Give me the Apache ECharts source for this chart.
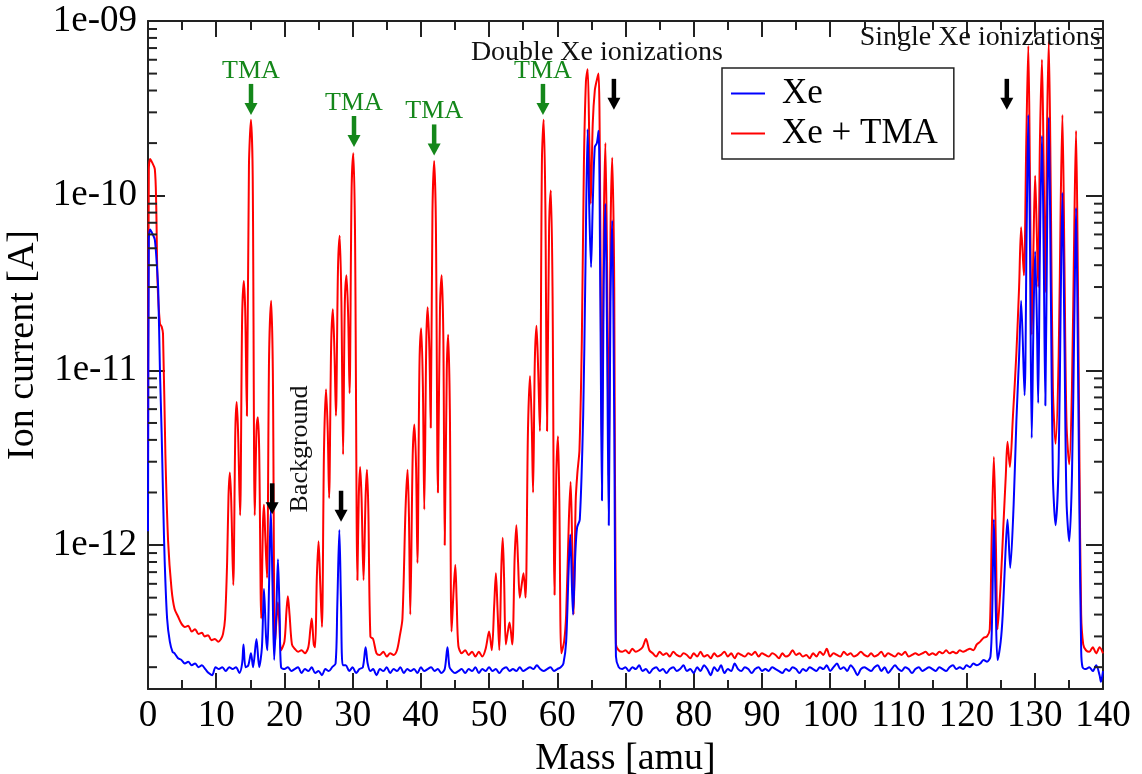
<!DOCTYPE html>
<html><head><meta charset="utf-8">
<script src="https://cdn.jsdelivr.net/npm/echarts@6/dist/echarts.min.js"></script>
<style>html,body{margin:0;padding:0;background:#fff}#c{width:1142px;height:774px}</style>
</head><body><div id="c"></div>
<script>
// ---------------- DATA (mass [amu], ion current [A]) ----------------
const xMin = 0, xMax = 140, xStep = 10;
const yMin = 1.5e-13, yMax = 1e-9;
const yTickLabels = [[1e-12, '1e-12'], [1e-11, '1e-11'], [1e-10, '1e-10'], [1e-9, '1e-09']];
const seriesNames = ['Xe', 'Xe + TMA'];

// Xe + TMA (red)
const tmaLow = [[0,3.0e-12],[0.12,1.4e-10],[0.3,1.62e-10],[0.6,1.55e-10],[1.0,1.42e-10],[1.2,9.0e-11],[1.4,3.2e-11],[1.75,1.85e-11],[2.0,1.78e-11],[2.2,1.62e-11],[2.55,3.3e-12],[2.95,1.05e-12],[3.45,5.6e-13],[3.9,4.3e-13],[4.4,3.9e-13],[4.9,3.55e-13],[5.4,3.4e-13],[5.9,3.45e-13],[6.4,3.2e-13],[6.9,3.3e-13],[7.4,3.1e-13],[7.9,3.15e-13],[8.3,3.0e-13],[8.8,3.05e-13],[9.3,2.85e-13],[9.8,2.9e-13],[10.3,2.8e-13],[10.7,2.9e-13],[11.0,3.1e-13],[11.3,3.8e-13],[11.6,8.0e-13],[11.8,1.9e-12],[12.0,2.6e-12],[12.2,1.8e-12],[12.5,5.9e-13],[12.8,4.5e-12],[13.0,6.6e-12],[13.2,4.5e-12],[13.5,1.48e-12],[13.8,2.0e-11],[14.05,3.25e-11],[14.25,2.2e-11],[14.5,5.5e-12],[14.8,1.5e-10],[15.1,2.72e-10],[15.35,1.3e-10],[15.65,1.48e-12],[15.9,4.5e-12],[16.1,5.4e-12],[16.3,3.5e-12],[16.6,3.8e-13],[16.85,1.3e-12],[17.0,1.7e-12],[17.2,1.1e-12],[17.45,6.5e-13],[17.75,1.2e-11],[18.05,2.5e-11],[18.3,1.0e-11],[18.6,2.7e-13],[18.85,3.8e-13],[19.05,4.7e-13],[19.25,3.6e-13],[19.5,2.5e-13],[20.0,2.8e-13],[20.3,4.2e-13],[20.5,5.1e-13],[20.75,4.0e-13],[21.1,2.7e-13],[21.5,2.55e-13],[22.0,2.45e-13],[22.5,2.5e-13],[23.0,2.4e-13],[23.5,2.6e-13]];
const tmaMid = [[23.8,3.3e-13],[24.0,3.8e-13],[24.3,2.7e-13],[24.5,2.6e-13],[24.75,6.5e-13],[25.0,1.05e-12],[25.25,6.0e-13],[25.5,3.4e-13],[25.8,3.5e-12],[26.1,7.8e-12],[26.35,4.5e-12],[26.55,1.86e-12],[26.85,1.4e-11],[27.1,2.24e-11],[27.35,1.2e-11],[27.55,5.5e-12],[27.85,3.8e-11],[28.1,5.9e-11],[28.35,2.5e-11],[28.6,3.3e-12],[28.85,2.4e-11],[29.1,3.5e-11],[29.35,2.0e-11],[29.55,7.4e-12],[29.85,1.1e-10],[30.1,1.75e-10],[30.35,6.0e-11],[30.7,6.3e-13],[30.9,1.9e-12],[31.1,2.8e-12],[31.3,1.9e-12],[31.6,6.3e-13],[31.9,1.9e-12],[32.1,2.7e-12],[32.3,1.6e-12],[32.6,3.0e-13],[33.0,2.9e-13],[33.5,2.4e-13],[34.0,2.35e-13],[34.5,2.45e-13],[35.0,2.3e-13],[35.5,2.4e-13],[36.0,2.35e-13],[36.5,2.5e-13],[36.9,3.0e-13],[37.3,3.8e-13],[37.75,1.6e-12],[38.05,2.7e-12],[38.25,1.5e-12],[38.45,4.0e-13],[38.8,3.2e-12],[39.05,4.9e-12],[39.3,2.8e-12],[39.5,7.9e-13],[39.8,1.1e-11],[40.05,1.74e-11],[40.3,8.0e-12],[40.5,1.6e-12],[40.8,1.5e-11],[41.0,2.3e-11],[41.25,1.3e-11],[41.45,4.7e-12],[41.7,8.0e-11],[41.95,1.58e-10],[42.2,7.0e-11],[42.5,2.0e-12],[42.8,2.2e-11],[43.05,3.5e-11],[43.3,1.5e-11],[43.5,1.0e-12],[43.8,1.0e-11],[44.0,1.6e-11],[44.25,6.0e-12],[44.5,3.2e-13],[44.8,5.5e-13],[45.05,7.7e-13],[45.25,4.8e-13],[45.5,2.65e-13],[46.0,2.4e-13],[46.5,2.5e-13],[47.0,2.35e-13],[47.5,2.45e-13],[48.0,2.3e-13],[48.5,2.45e-13],[49.0,2.3e-13],[49.5,2.55e-13],[50.0,3.2e-13],[50.4,2.5e-13],[50.75,4.5e-13],[51.0,6.9e-13],[51.25,4.2e-13],[51.5,2.5e-13],[51.8,7.5e-13],[52.0,1.1e-12],[52.2,6.5e-13],[52.45,2.7e-13],[52.75,3.2e-13],[53.0,3.6e-13],[53.4,2.7e-13],[53.75,8.5e-13],[54.0,1.3e-12],[54.25,8.0e-13],[54.5,5.0e-13],[54.8,6.0e-13],[55.05,6.9e-13],[55.35,5.0e-13],[55.7,4.5e-12],[56.0,9.3e-12],[56.25,5.0e-12],[56.45,2.0e-12],[56.7,1.1e-11],[56.95,1.8e-11],[57.2,1.0e-11],[57.45,4.5e-12],[57.75,1.6e-10],[58.0,2.72e-10],[58.25,9.0e-11],[58.5,4.5e-12],[58.8,6.5e-11],[59.05,1.07e-10],[59.3,3.0e-11],[59.6,5.2e-13],[59.85,2.5e-12],[60.1,4.2e-12],[60.3,1.8e-12],[60.6,2.4e-13],[61.0,2.8e-13],[61.3,4.0e-13],[61.7,1.4e-12],[61.95,2.3e-12],[62.15,1.2e-12],[62.4,4.0e-13],[62.7,1.8e-12],[62.95,2.6e-12],[63.25,3.5e-12],[63.6,1.5e-11],[63.9,1.5e-10],[64.2,4.5e-10],[64.45,5.3e-10],[64.7,2.0e-10],[64.9,9.0e-11],[65.2,2.6e-10],[65.5,4.0e-10],[65.8,4.6e-10],[66.05,5.0e-10],[66.3,8.0e-11],[66.55,3.0e-12],[66.8,6.0e-11],[67.05,2.0e-10],[67.3,4.0e-11],[67.55,2.5e-12],[67.8,6.0e-11],[68.05,1.65e-10],[68.35,3.0e-11],[68.6,2.7e-13]];
const tmaFlat = [[69.0,2.5e-13],[69.5,2.45e-13],[70.0,2.5e-13],[70.5,2.4e-13],[71.0,2.55e-13],[71.5,2.45e-13],[72.0,2.5e-13],[72.5,2.6e-13],[73.0,2.9e-13],[73.5,2.5e-13],[74.0,2.4e-13],[74.5,2.3e-13],[75.0,2.45e-13],[75.5,2.35e-13],[76.0,2.4e-13],[76.5,2.3e-13],[77.0,2.45e-13],[77.5,2.35e-13],[78.0,2.3e-13],[78.5,2.4e-13],[79.0,2.35e-13],[79.5,2.25e-13],[80.0,2.4e-13],[80.5,2.3e-13],[81.0,2.45e-13],[81.5,2.3e-13],[82.0,2.35e-13],[82.5,2.25e-13],[83.0,2.4e-13],[83.5,2.3e-13],[84.0,2.35e-13],[84.5,2.45e-13],[85.0,2.3e-13],[85.5,2.4e-13],[86.0,2.25e-13],[86.5,2.4e-13],[87.0,2.35e-13],[87.5,2.3e-13],[88.0,2.4e-13],[88.5,2.35e-13],[89.0,2.45e-13],[89.5,2.3e-13],[90.0,2.4e-13],[90.5,2.35e-13],[91.0,2.3e-13],[91.5,2.4e-13],[92.0,2.35e-13],[92.5,2.25e-13],[93.0,2.4e-13],[93.5,2.3e-13],[94.0,2.35e-13],[94.5,2.5e-13],[95.0,2.35e-13],[95.5,2.4e-13],[96.0,2.3e-13],[96.5,2.35e-13],[97.0,2.25e-13],[97.5,2.4e-13],[98.0,2.3e-13],[98.5,2.45e-13],[99.0,2.35e-13],[99.5,2.55e-13],[100.0,2.3e-13],[100.5,2.4e-13],[101.0,2.35e-13],[101.5,2.3e-13],[102.0,2.45e-13],[102.5,2.35e-13],[103.0,2.4e-13],[103.5,2.3e-13],[104.0,2.35e-13],[104.5,2.45e-13],[105.0,2.35e-13],[105.5,2.3e-13],[106.0,2.4e-13],[106.5,2.3e-13],[107.0,2.35e-13],[107.5,2.45e-13],[108.0,2.3e-13],[108.5,2.4e-13],[109.0,2.35e-13],[109.5,2.3e-13],[110.0,2.4e-13],[110.5,2.35e-13],[111.0,2.45e-13],[111.5,2.3e-13],[112.0,2.35e-13],[112.5,2.4e-13],[113.0,2.35e-13],[113.5,2.4e-13],[114.0,2.45e-13],[114.5,2.35e-13],[115.0,2.4e-13],[115.5,2.35e-13],[116.0,2.45e-13],[116.5,2.4e-13],[117.0,2.5e-13],[117.5,2.4e-13],[118.0,2.45e-13],[118.5,2.4e-13],[119.0,2.5e-13],[119.5,2.45e-13],[120.0,2.5e-13],[120.5,2.55e-13],[121.0,2.5e-13],[121.5,2.7e-13],[122.0,2.8e-13],[122.5,2.95e-13],[123.0,3.0e-13],[123.4,3.3e-13]];
const tmaHigh = [[123.7,1.2e-12],[124.0,3.2e-12],[124.3,1.0e-12],[124.55,3.3e-13],[125.0,6.0e-13],[125.4,1.3e-12],[125.75,2.5e-12],[126.0,3.9e-12],[126.35,2.8e-12],[126.8,5.5e-12],[127.3,1.25e-11],[127.7,3.0e-11],[128.0,6.6e-11],[128.4,3.5e-11],[128.75,2.0e-10],[129.05,7.2e-10],[129.3,1.2e-10],[129.55,1.6e-11],[129.8,5.0e-11],[130.05,1.3e-10],[130.3,6.0e-11],[130.5,3.0e-11],[130.75,2.0e-10],[131.05,6.0e-10],[131.3,1.5e-10],[131.55,2.8e-11],[131.8,2.5e-10],[132.05,7.6e-10],[132.35,1.0e-10],[132.65,8.0e-12],[133.05,3.8e-12],[133.5,1.2e-11],[133.8,9.0e-11],[134.05,2.9e-10],[134.35,4.0e-11],[134.65,5.0e-12],[135.05,2.9e-12],[135.45,8.0e-12],[135.8,7.0e-11],[136.05,2.35e-10],[136.3,4.0e-11],[136.55,3.0e-12],[136.8,4.0e-13],[137.1,2.7e-13],[137.5,2.5e-13],[138.0,2.45e-13],[138.5,2.6e-13],[139.0,2.4e-13],[139.5,2.6e-13],[140.0,2.4e-13]];

// Xe (blue)
const xeLow = [[0,1.2e-12],[0.12,5.5e-11],[0.3,6.4e-11],[0.7,6.0e-11],[1.0,5.6e-11],[1.3,4.0e-11],[1.5,2.9e-11],[1.75,1.0e-11],[2.0,4.4e-12],[2.25,1.6e-12],[2.45,8.0e-13],[2.8,3.8e-13],[3.2,2.8e-13],[3.6,2.45e-13],[3.9,2.4e-13],[4.4,2.25e-13],[4.9,2.2e-13],[5.4,2.1e-13],[5.9,2.15e-13],[6.4,2.05e-13],[6.9,2.1e-13],[7.4,2.0e-13],[7.9,2.05e-13],[8.4,1.95e-13],[8.9,1.85e-13],[9.4,1.8e-13],[9.9,2.0e-13],[10.4,1.95e-13],[10.9,2.0e-13],[11.4,1.9e-13],[11.9,2.0e-13],[12.4,1.95e-13],[12.9,2.0e-13],[13.4,1.85e-13],[13.8,2.1e-13],[14.0,2.7e-13],[14.3,2.0e-13],[14.7,2.05e-13],[15.1,2.4e-13],[15.4,2.0e-13],[15.9,2.9e-13],[16.3,2.0e-13],[16.7,2.6e-13],[17.0,5.6e-13],[17.3,3.0e-13],[17.5,2.5e-13],[17.75,6.0e-13],[18.0,1.6e-12],[18.25,6.0e-13],[18.5,2.2e-13],[18.8,4.0e-13],[19.05,8.3e-13],[19.3,4.0e-13],[19.5,2.0e-13],[20.0,1.95e-13],[20.5,2.0e-13],[21.0,1.9e-13],[21.5,1.95e-13],[22.0,2.0e-13],[22.5,1.85e-13],[23.0,1.95e-13],[23.5,1.9e-13],[24.0,2.0e-13],[24.5,1.85e-13],[25.0,1.9e-13],[25.5,1.8e-13],[26.0,1.95e-13],[26.5,1.9e-13],[27.0,2.0e-13],[27.5,2.1e-13],[27.75,4.5e-13],[28.05,1.22e-12],[28.3,4.5e-13],[28.55,2.05e-13],[29.0,2.05e-13],[29.5,1.9e-13],[30.0,2.0e-13],[30.5,1.85e-13],[31.0,1.95e-13],[31.5,2.0e-13],[31.9,2.6e-13],[32.2,2.1e-13],[32.6,1.9e-13],[33.0,1.95e-13]];
const xeMid = [[33.5,1.8e-13],[34.0,1.95e-13],[34.5,1.9e-13],[35.0,2.0e-13],[35.5,1.85e-13],[36.0,1.95e-13],[36.5,1.9e-13],[37.0,2.0e-13],[37.5,1.85e-13],[38.0,1.95e-13],[38.5,1.9e-13],[39.0,1.95e-13],[39.5,1.85e-13],[40.0,2.0e-13],[40.5,1.9e-13],[41.0,1.95e-13],[41.5,2.0e-13],[42.0,1.9e-13],[42.5,1.95e-13],[43.0,1.85e-13],[43.5,1.95e-13],[43.9,2.6e-13],[44.2,2.0e-13],[44.6,1.9e-13],[45.0,1.85e-13],[45.5,1.9e-13],[46.0,1.95e-13],[46.5,1.85e-13],[47.0,1.95e-13],[47.5,1.9e-13],[48.0,2.0e-13],[48.5,1.85e-13],[49.0,1.95e-13],[49.5,1.9e-13],[50.0,2.0e-13],[50.5,1.9e-13],[51.0,1.95e-13],[51.5,1.85e-13],[52.0,1.95e-13],[52.5,2.0e-13],[53.0,1.9e-13],[53.5,1.95e-13],[54.0,1.9e-13],[54.5,2.0e-13],[55.0,1.9e-13],[55.5,1.95e-13],[56.0,2.0e-13],[56.5,1.95e-13],[57.0,2.05e-13],[57.5,1.95e-13],[58.0,1.9e-13],[58.5,1.95e-13],[59.0,2.0e-13],[59.5,1.9e-13],[60.0,1.95e-13],[60.5,2.0e-13],[60.9,2.1e-13],[61.3,2.8e-13],[61.65,7.0e-13],[61.9,1.15e-12],[62.3,4.0e-13],[62.65,9.0e-13],[62.9,1.26e-12],[63.3,1.4e-12],[63.8,5.6e-12],[64.1,3.2e-11],[64.45,2.4e-10],[64.7,8.0e-11],[64.95,3.9e-11],[65.2,9.0e-11],[65.5,1.9e-10],[65.8,2.0e-10],[66.05,2.35e-10],[66.3,3.0e-11],[66.55,1.8e-12],[66.8,3.0e-11],[67.05,9.0e-11],[67.3,1.5e-11],[67.55,1.3e-12],[67.8,2.5e-11],[68.05,7.2e-11],[68.35,5.0e-12],[68.6,2.3e-13]];
const xeFlat = [[69.0,2.0e-13],[69.5,1.95e-13],[70.0,2.0e-13],[70.5,1.9e-13],[71.0,2.0e-13],[71.5,1.95e-13],[72.0,2.05e-13],[72.5,1.9e-13],[73.0,1.95e-13],[73.5,1.85e-13],[74.0,1.95e-13],[74.5,2.0e-13],[75.0,1.9e-13],[75.5,1.95e-13],[76.0,1.85e-13],[76.5,1.95e-13],[77.0,2.0e-13],[77.5,1.9e-13],[78.0,1.95e-13],[78.5,2.05e-13],[79.0,1.9e-13],[79.5,1.95e-13],[80.0,1.85e-13],[80.5,2.0e-13],[81.0,1.9e-13],[81.5,2.05e-13],[82.0,1.95e-13],[82.5,1.8e-13],[83.0,2.0e-13],[83.5,1.9e-13],[84.0,2.05e-13],[84.5,1.85e-13],[85.0,1.95e-13],[85.5,1.9e-13],[86.0,2.1e-13],[86.5,1.95e-13],[87.0,1.9e-13],[87.5,2.0e-13],[88.0,1.95e-13],[88.5,1.85e-13],[89.0,1.95e-13],[89.5,2.0e-13],[90.0,1.9e-13],[90.5,1.95e-13],[91.0,1.9e-13],[91.5,2.0e-13],[92.0,1.95e-13],[92.5,1.9e-13],[93.0,1.85e-13],[93.5,1.95e-13],[94.0,1.9e-13],[94.5,2.0e-13],[95.0,1.95e-13],[95.5,1.85e-13],[96.0,1.95e-13],[96.5,1.9e-13],[97.0,2.0e-13],[97.5,1.95e-13],[98.0,1.9e-13],[98.5,2.0e-13],[99.0,1.95e-13],[99.5,2.05e-13],[100.0,1.9e-13],[100.5,2.0e-13],[101.0,2.1e-13],[101.5,1.95e-13],[102.0,2.0e-13],[102.5,1.9e-13],[103.0,2.05e-13],[103.5,1.95e-13],[104.0,1.8e-13],[104.5,1.95e-13],[105.0,2.0e-13],[105.5,1.95e-13],[106.0,1.9e-13],[106.5,2.0e-13],[107.0,2.05e-13],[107.5,1.9e-13],[108.0,2.0e-13],[108.5,1.85e-13],[109.0,1.95e-13],[109.5,2.05e-13],[110.0,1.95e-13],[110.5,1.9e-13],[111.0,2.0e-13],[111.5,1.95e-13],[112.0,1.85e-13],[112.5,1.95e-13],[113.0,2.0e-13],[113.5,1.9e-13],[114.0,1.95e-13],[114.5,2.0e-13],[115.0,1.95e-13],[115.5,1.9e-13],[116.0,2.0e-13],[116.5,1.95e-13],[117.0,1.9e-13],[117.5,2.0e-13],[118.0,2.05e-13],[118.5,1.95e-13],[119.0,2.0e-13],[119.5,1.95e-13],[120.0,2.05e-13],[120.5,2.0e-13],[121.0,2.1e-13],[121.5,2.05e-13],[122.0,2.1e-13],[122.5,2.2e-13]];
const xeHigh = [[123.0,2.15e-13],[123.5,2.3e-13],[123.75,4.0e-13],[124.0,1.4e-12],[124.3,4.0e-13],[124.55,2.2e-13],[125.0,2.8e-13],[125.3,4.0e-13],[125.7,9.0e-13],[126.0,1.4e-12],[126.4,7.4e-13],[126.9,1.7e-12],[127.3,5.1e-12],[127.7,1.2e-11],[128.0,2.5e-11],[128.5,7.2e-12],[128.8,6.0e-11],[129.05,2.9e-10],[129.3,5.0e-11],[129.55,4.1e-12],[129.8,1.8e-11],[130.05,4.8e-11],[130.3,2.0e-11],[130.5,6.5e-12],[130.75,5.0e-11],[131.05,2.2e-10],[131.3,5.0e-11],[131.55,6.3e-12],[131.8,6.0e-11],[132.05,2.8e-10],[132.35,3.0e-11],[132.65,2.5e-12],[133.05,1.3e-12],[133.5,3.0e-12],[133.8,2.5e-11],[134.05,1.04e-10],[134.35,1.5e-11],[134.65,1.8e-12],[135.05,1.05e-12],[135.45,2.5e-12],[135.8,2.0e-11],[136.05,8.5e-11],[136.3,1.5e-11],[136.55,1.5e-12],[136.8,2.5e-13],[137.0,2.0e-13],[137.5,1.95e-13],[138.0,2.0e-13],[138.5,1.9e-13],[139.0,2.05e-13],[139.5,1.8e-13],[139.7,1.65e-13],[140.0,1.9e-13]];

// Annotations (mass, current)
const tmaArrowTips = [[15.1, 2.9e-10], [30.2, 1.9e-10], [41.95, 1.7e-10], [57.9, 2.9e-10]];
const blackArrowTips = [[18.2, 1.5e-12], [28.3, 1.36e-12], [68.3, 3.1e-10], [125.9, 3.1e-10]];
const noteTexts = ['Background', 'Double Xe ionizations', 'Single Xe ionizations'];
const notePositions = [[22.3, 3.55e-12], [65.8, 6.6e-10], [122.0, 8.05e-10]];
const noteRotations = [90, 0, 0];

// ---------------- CHART ----------------
const FONT = '"Liberation Serif", "Times New Roman", serif';
const GREEN = '#14871a';
const AXIS = '#222';
const chart = echarts.init(document.getElementById('c'), null, {renderer: 'canvas'});

const tmaData = tmaLow.concat(tmaMid, tmaFlat, tmaHigh);
const xeData = xeLow.concat(xeMid, xeFlat, xeHigh);

const minorTickValues = [];
for (let e = -13; e <= -10; e++) {
  for (let m = 2; m <= 9; m++) {
    const v = m * Math.pow(10, e);
    if (v > yMin && v < yMax) minorTickValues.push([xMin, v]);
  }
}

function yLabel(v) {
  for (const t of yTickLabels) {
    if (Math.abs(Math.log10(v) - Math.log10(t[0])) < 1e-6) return t[1];
  }
  return '';
}

function arrow(x, yTip, color) {
  const len = 31, shaftW = 4.5, headW = 13, headH = 12;
  return [
    {type: 'rect', shape: {x: x - shaftW / 2, y: yTip - len, width: shaftW, height: len - headH + 1}, style: {fill: color}},
    {type: 'polygon', shape: {points: [[x - headW / 2, yTip - headH], [x + headW / 2, yTip - headH], [x, yTip]]}, style: {fill: color}}
  ];
}

const axisLineStyle = {show: true, onZero: false, lineStyle: {color: AXIS, width: 2}};

const option = {
  animation: false,
  backgroundColor: '#fff',
  grid: {left: 148, right: 39, top: 21, bottom: 85, containLabel: false, outerBoundsMode: 'none'},
  legend: {
    data: seriesNames,
    orient: 'vertical', left: 722, top: 68,
    padding: [8, 16, 8, 9], itemGap: 5, itemWidth: 34, itemHeight: 2, icon: 'rect',
    borderColor: AXIS, borderWidth: 1.5, borderRadius: 0, backgroundColor: '#fff',
    textStyle: {fontFamily: FONT, fontSize: 35, color: '#000', lineHeight: 30, padding: [0, 0, 0, 12]},
    selectedMode: false
  },
  xAxis: [{
    type: 'value', min: xMin, max: xMax, interval: xStep, position: 'bottom',
    name: 'Mass [amu]', nameLocation: 'middle', nameGap: 34,
    nameTextStyle: {fontFamily: FONT, fontSize: 38, color: '#000'},
    axisLine: axisLineStyle,
    axisTick: {show: true, inside: true, length: 16, lineStyle: {color: AXIS, width: 2}},
    minorTick: {show: true, splitNumber: 2, length: 9, lineStyle: {color: AXIS, width: 2}},
    axisLabel: {fontFamily: FONT, fontSize: 37, color: '#000', margin: 9},
    splitLine: {show: false}
  }, {
    type: 'value', min: xMin, max: xMax, interval: xStep, position: 'top',
    axisLine: axisLineStyle,
    axisTick: {show: true, inside: true, length: 16, lineStyle: {color: AXIS, width: 2}},
    minorTick: {show: true, splitNumber: 2, length: 9, lineStyle: {color: AXIS, width: 2}},
    axisLabel: {show: false}, splitLine: {show: false}
  }],
  yAxis: [{
    type: 'log', logBase: 10, min: yMin, max: yMax, position: 'left',
    name: 'Ion current [A]', nameLocation: 'middle', nameGap: 94,
    nameTextStyle: {fontFamily: FONT, fontSize: 38, color: '#000', padding: [0, 0, 0, 20]},
    axisLine: axisLineStyle,
    axisTick: {show: true, inside: true, length: 17, lineStyle: {color: AXIS, width: 2}},
    axisLabel: {fontFamily: FONT, fontSize: 37, color: '#000', margin: 11, formatter: yLabel},
    splitLine: {show: false}
  }, {
    type: 'log', logBase: 10, min: yMin, max: yMax, position: 'right',
    axisLine: axisLineStyle,
    axisTick: {show: true, inside: true, length: 17, lineStyle: {color: AXIS, width: 2}},
    axisLabel: {show: false}, splitLine: {show: false}
  }],
  series: [
    {
      name: 'Xe + TMA', type: 'line', data: tmaData, symbol: 'none', smooth: 0.3,
      lineStyle: {color: '#ff0000', width: 2}, itemStyle: {color: '#ff0000'}, z: 2
    },
    {
      name: 'Xe', type: 'line', data: xeData, symbol: 'none', smooth: 0.3,
      lineStyle: {color: '#0000ff', width: 2}, itemStyle: {color: '#0000ff'}, z: 3
    },
    {
      name: 'minorTicks', type: 'custom', silent: true, z: 4, data: minorTickValues,
      renderItem: function (params, api) {
        const cs = params.coordSys;
        const y = api.coord([api.value(0), api.value(1)])[1];
        const st = {stroke: AXIS, lineWidth: 2};
        return {type: 'group', children: [
          {type: 'line', shape: {x1: cs.x, y1: y, x2: cs.x + 9, y2: y}, style: st},
          {type: 'line', shape: {x1: cs.x + cs.width - 9, y1: y, x2: cs.x + cs.width, y2: y}, style: st}
        ]};
      }
    },
    {
      name: 'tmaNotes', type: 'custom', silent: true, z: 6, data: tmaArrowTips,
      renderItem: function (params, api) {
        const p = api.coord([api.value(0), api.value(1)]);
        const kids = arrow(p[0], p[1], GREEN);
        kids.push({type: 'text', x: p[0], y: p[1] - 44, style: {text: 'TMA', align: 'center', verticalAlign: 'middle', fill: GREEN, font: '26px ' + FONT}});
        return {type: 'group', children: kids};
      }
    },
    {
      name: 'blackArrows', type: 'custom', silent: true, z: 6, data: blackArrowTips,
      renderItem: function (params, api) {
        const p = api.coord([api.value(0), api.value(1)]);
        return {type: 'group', children: arrow(p[0], p[1], '#000')};
      }
    },
    {
      name: 'notes', type: 'custom', silent: true, z: 6, data: notePositions,
      renderItem: function (params, api) {
        const p = api.coord([api.value(0), api.value(1)]);
        const i = params.dataIndex;
        const size = noteRotations[i] ? 26 : 28;
        return {type: 'text', x: p[0], y: p[1], rotation: noteRotations[i] * Math.PI / 180,
          style: {text: noteTexts[i], align: 'center', verticalAlign: 'middle', fill: '#111', font: size + 'px ' + FONT}};
      }
    }
  ]
};
chart.setOption(option);
</script>
</body></html>
